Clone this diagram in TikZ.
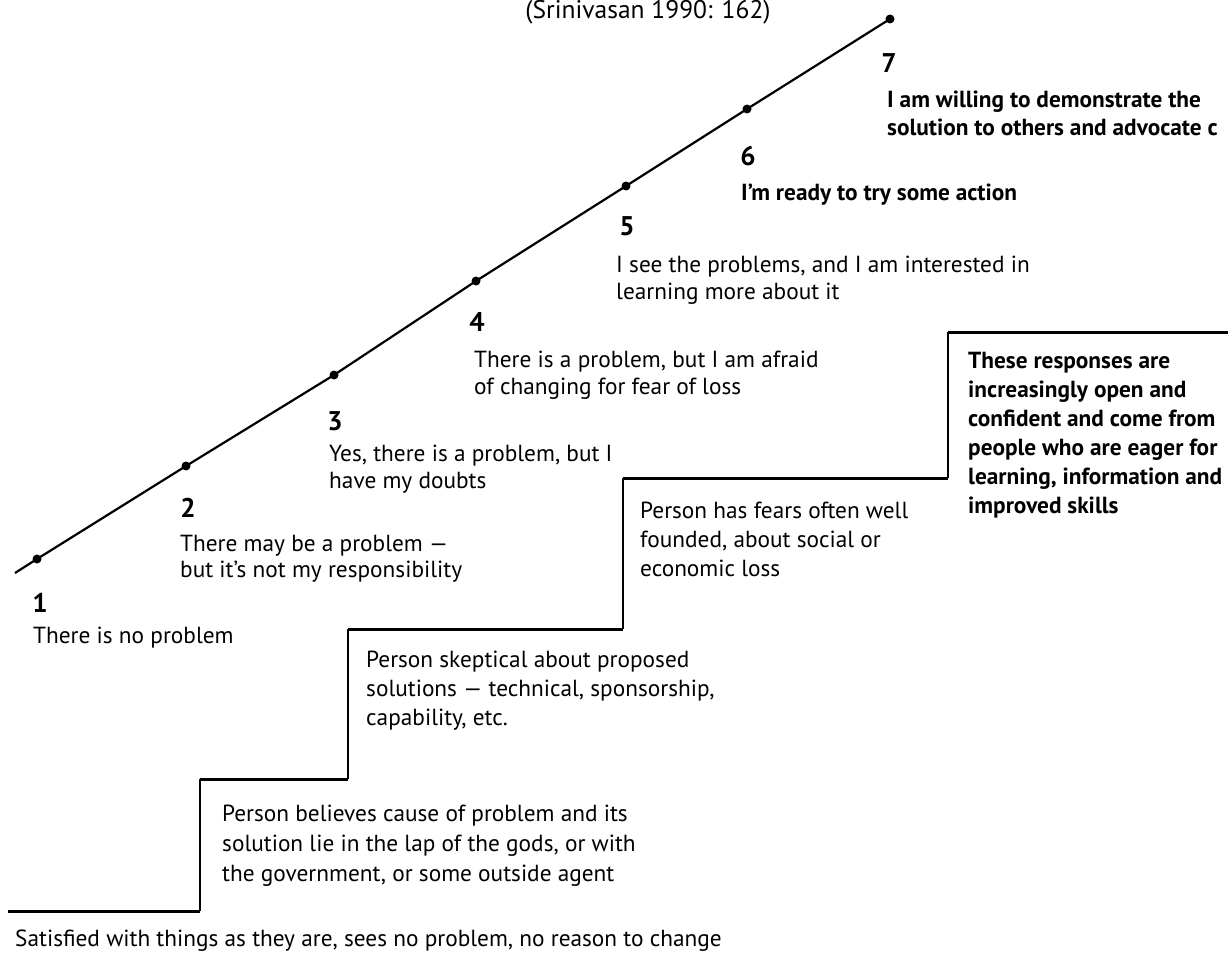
\documentclass[tikz,border=0pt]{standalone}
\usepackage{fontspec}
\setmainfont{PT Sans}
\begin{document}
\begin{tikzpicture}[x=1pt,y=-1pt,
  txt/.style={anchor=west,inner sep=0pt,text height=17pt,text depth=5pt,font=\fontsize{23.3}{28}\selectfont},
  btxt/.style={txt,font=\fontsize{23.3}{28}\selectfont\bfseries},
  num/.style={inner sep=0pt,text height=18pt,text depth=0pt,font=\fontsize{27}{30}\selectfont\bfseries},
  dot/.style={circle,fill=black,inner sep=0pt,minimum size=9pt},
  rise/.style={line width=1.3pt},
  tread/.style={line width=3pt},
  slope/.style={line width=2.2pt}]
\useasboundingbox (0,0) rectangle (1228,958);
\clip (0,0) rectangle (1228,958);

% title
\node[txt,anchor=center,font=\fontsize{25.5}{28}\selectfont] (title) at (648,13) {(Srinivasan 1990: 162)};

% diagonal with dots
\coordinate (s0) at (15,573);
\node[dot] (d1) at (37,559) {};
\node[dot] (d2) at (186,466) {};
\node[dot] (d3) at (334,375) {};
\node[dot] (d4) at (476,281) {};
\node[dot] (d5) at (626,186) {};
\node[dot] (d6) at (747,109) {};
\node[dot] (d7) at (890,19) {};
\draw[slope] (s0) -- (d1.center) -- (d2.center) -- (d3.center) -- (d4.center) -- (d5.center) -- (d6.center) -- (d7.center);

% numbers and statements
\node[num] (n1) at (40,603) {1};
\node[txt] (t1a) at (33,637) {There is no problem};

\node[num] (n2) at (188,508) {2};
\node[txt] (t2a) at (180,545) {There may be a problem —};
\node[txt] (t2b) at (180,571) {but it’s not my responsibility};

\node[num] (n3) at (335,421) {3};
\node[txt] (t3a) at (329,455) {Yes, there is a problem, but I};
\node[txt] (t3b) at (329,482) {have my doubts};

\node[num] (n4) at (477,322) {4};
\node[txt] (t4a) at (474,361) {There is a problem, but I am afraid};
\node[txt] (t4b) at (474,388) {of changing for fear of loss};

\node[num] (n5) at (627,226) {5};
\node[txt] (t5a) at (616,266) {I see the problems, and I am interested in};
\node[txt] (t5b) at (616,293) {learning more about it};

\node[num] (n6) at (748,156) {6};
\node[btxt] (t6a) at (741,194) {I’m ready to try some action};

\node[num] (n7) at (889,64) {7};
\node[btxt] (t7a) at (887,101) {I am willing to demonstrate the};
\node[btxt] (t7b) at (887,129) {solution to others and advocate c};

% staircase
\coordinate (p0) at (8,911);
\coordinate (p1) at (200,911);
\coordinate (p2) at (200,779);
\coordinate (p3) at (348,779);
\coordinate (p4) at (348,629);
\coordinate (p5) at (623,629);
\coordinate (p6) at (623,478);
\coordinate (p7) at (948,478);
\coordinate (p8) at (948,332);
\coordinate (p9) at (1228,332);
\draw[tread] (p0) -- (p1);
\draw[rise] (p1) -- (p2);
\draw[tread] (p2) -- (p3);
\draw[rise] (p3) -- (p4);
\draw[tread] (p4) -- (p5);
\draw[rise] (p5) -- (p6);
\draw[tread] (p6) -- (p7);
\draw[rise] (p7) -- (p8);
\draw[tread] (p8) -- (p9);

% step descriptions
\node[txt] (b0) at (15,940) {Satisfied with things as they are, sees no problem, no reason to change};

\node[txt] (b1a) at (222,815) {Person believes cause of problem and its};
\node[txt] (b1b) at (222,845) {solution lie in the lap of the gods, or with};
\node[txt] (b1c) at (222,875) {the government, or some outside agent};

\node[txt] (b2a) at (366,661) {Person skeptical about proposed};
\node[txt] (b2b) at (366,690) {solutions — technical, sponsorship,};
\node[txt] (b2c) at (366,719) {capability, etc.};

\node[txt] (b3a) at (640,512) {Person has fears often well};
\node[txt] (b3b) at (640,541) {founded, about social or};
\node[txt] (b3c) at (640,570) {economic loss};

\node[btxt] (b4a) at (968,362) {These responses are};
\node[btxt] (b4b) at (968,391) {increasingly open and};
\node[btxt] (b4c) at (968,420) {confident and come from};
\node[btxt] (b4d) at (968,449) {people who are eager for};
\node[btxt] (b4e) at (968,478) {learning, information and};
\node[btxt] (b4f) at (968,507) {improved skills};
\end{tikzpicture}
\end{document}
